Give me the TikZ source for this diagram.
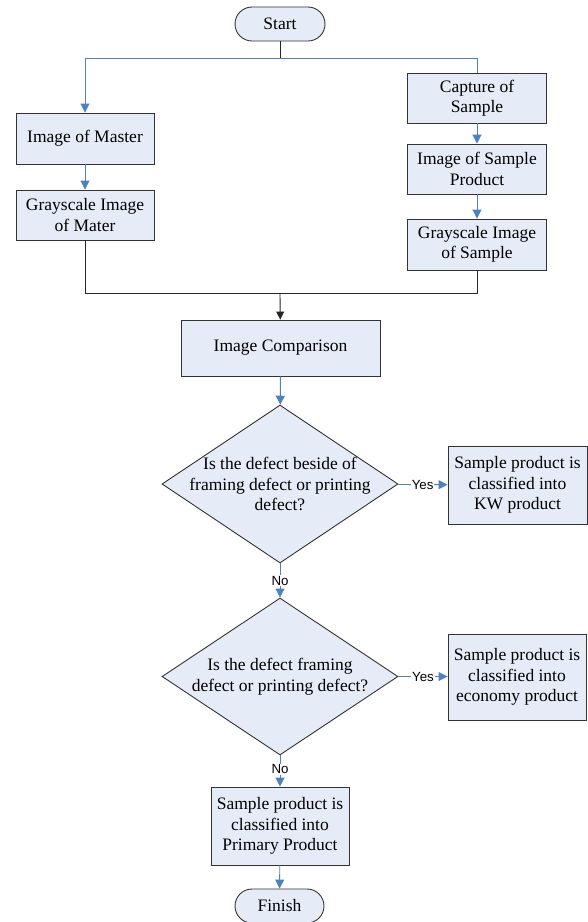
\documentclass[tikz,border=0pt]{standalone}
\usepackage{fontspec}
\setmainfont{Liberation Serif}
\newfontfamily\yesnofont{Liberation Sans}
\usetikzlibrary{shapes.geometric,arrows.meta}

\definecolor{boxfill}{HTML}{E6ECF7}
\definecolor{flowblue}{HTML}{4F81BD}

\tikzset{
  box/.style={draw=black!80,fill=boxfill,line width=0.9pt,align=center,inner sep=2pt,
    minimum width=138pt,minimum height=50pt,font=\fontsize{17.5}{20.5}\selectfont},
  terminal/.style={box,rounded corners=17pt,minimum width=90pt,minimum height=34pt},
  decision/.style={draw=black!80,fill=boxfill,line width=0.9pt,shape=diamond,inner sep=0pt,
    minimum width=236pt,minimum height=158pt},
  dtext/.style={align=center,font=\fontsize{17.5}{20.5}\selectfont},
  flow/.style={draw=flowblue,line width=0.9pt},
  flowarrow/.style={flow,-{Triangle[length=9pt,width=9pt]}},
  joinline/.style={draw=black!85,line width=0.9pt},
  answer/.style={fill=white,inner sep=1pt,font=\yesnofont\fontsize{13.3}{15}\selectfont}
}

\begin{document}
\begin{tikzpicture}[x=1pt,y=1pt]
\useasboundingbox (0,0) rectangle (588,-922);

% start and the two branches
\node[terminal] (start) at (280,-24) {Start};
\coordinate (split) at (280,-58);

\node[box,minimum height=51pt] (master) at (85,-138.5) {Image of Master};
\node[box] (mater) at (85,-215) {Grayscale Image\\of Mater};

\node[box,minimum width=139pt] (capture) at (477,-98) {Capture of\\Sample};
\node[box,minimum width=139pt] (sprod) at (477,-169) {Image of Sample\\Product};
\node[box,minimum width=139pt,minimum height=51pt] (sgray) at (477,-244.5) {Grayscale Image\\of Sample};

\coordinate (merge) at (280,-293);

\node[box,minimum width=199pt,minimum height=56pt] (compare) at (280.5,-348) {Image Comparison};

% first decision
\node[decision] (d1) at (280,-484) {};
\node[dtext] (d1text) at (280,-484) {Is the defect beside of\\framing defect or printing\\defect?};
\node[box,minimum width=139pt,minimum height=78pt] (kw) at (517.5,-485) {Sample product is\\classified into\\KW product};

% second decision
\node[decision,minimum height=157pt] (d2) at (280,-676.5) {};
\node[dtext] (d2text) at (280,-676.5) {Is the defect framing\\defect or printing defect?};
\node[box,minimum height=86pt] (econ) at (517,-677) {Sample product is\\classified into\\economy product};

\node[box,minimum height=78pt] (primary) at (280,-826) {Sample product is\\classified into\\Primary Product};
\node[terminal,minimum width=89pt] (finish) at (279.5,-906) {Finish};

% connectors
\draw[joinline] (start) -- (split);
\draw[flowarrow] (split) -| (master);
\draw[flow] (split) -| (capture);
\draw[flowarrow] (master) -- (mater);
\draw[flowarrow] (capture) -- (sprod);
\draw[flowarrow] (sprod) -- (sgray);

\draw[joinline] (mater) |- (merge);
\draw[joinline] (sgray) |- (merge);
\draw[joinline,-{Triangle[length=8pt,width=8pt]}] (merge) -- (compare);

\draw[flowarrow] (compare) -- (d1);
\draw[flowarrow] (d1) -- node[answer] (yes1) {Yes} (kw);
\draw[flowarrow] (d1) -- node[answer] (no1) {No} (d2);
\draw[flowarrow] (d2.east) -- node[answer] (yes2) {Yes} (econ.west |- d2.east);
\draw[flowarrow] (d2) -- node[answer,pos=0.45] (no2) {No} (primary);
\draw[flowarrow] (primary) -- (finish);
\end{tikzpicture}
\end{document}
